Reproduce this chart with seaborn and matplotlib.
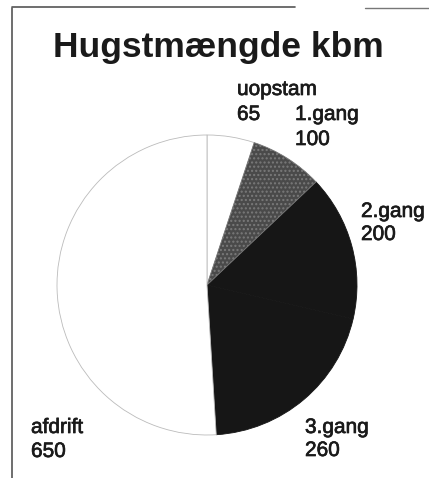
import matplotlib
matplotlib.use("Agg")
import matplotlib.pyplot as plt
import matplotlib.patheffects as pe
from matplotlib.lines import Line2D
import seaborn as sns

# data
categories = ["uopstam", "1.gang", "2.gang", "3.gang", "afdrift"]
volumes = [65, 100, 200, 260, 650]
title = "Hugstmængde kbm"

# styling
slice_colors = ["#ffffff", "#4a4a4a", "#161616", "#161616", "#ffffff"]
slice_edges = ["#bbbbbb", "#7a7a7a", "#161616", "#161616", "#bbbbbb"]
slice_hatches = [None, "....", None, None, None]
# label left x, name baseline y, value baseline y (figure pixels from top-left)
label_pos = [(237, 95, 120), (295, 120, 145), (361, 217, 240), (305, 433, 456), (31, 433, 457)]

W, H = 429, 478
sns.set_style("white")
plt.rcParams["font.family"] = ["Liberation Sans", "DejaVu Sans"]

fig = plt.figure(figsize=(W / 100, H / 100), dpi=100)

# pie centre and radius in pixels
cx, cy, r = 207, 285, 150
ax = fig.add_axes([(cx - r) / W, (H - cy - r) / H, 2 * r / W, 2 * r / H])
wedges, _ = ax.pie(volumes, startangle=90, counterclock=False, colors=slice_colors,
                   wedgeprops=dict(linewidth=0.6))
for w, ec, h in zip(wedges, slice_edges, slice_hatches):
    w.set_edgecolor(ec)
    if h:
        w.set_hatch(h)
# light seam between 1.gang and 2.gang as in the scan
wedges[2].set_zorder(0)
ax.set_xlim(-1, 1)
ax.set_ylim(-1, 1)
ax.axis("off")

fig.text(218 / W, 1 - 47 / H, title, ha="center", va="center",
         fontsize=25.5, fontweight="bold", color="#1a1a1a")

thick = [pe.withStroke(linewidth=0.5, foreground="#1a1a1a")]
for name, val, (px, py_name, py_val) in zip(categories, volumes, label_pos):
    fig.text(px / W, 1 - py_name / H, name, ha="left", va="baseline",
             fontsize=15, color="#1a1a1a", path_effects=thick)
    fig.text(px / W, 1 - py_val / H, str(val), ha="left", va="baseline",
             fontsize=15, color="#1a1a1a", path_effects=thick)

# scanned frame lines
fig.add_artist(Line2D([12 / W, 12 / W], [0, 1 - 8 / H], color="#555555", lw=1.2))
fig.add_artist(Line2D([12 / W, 295 / W], [1 - 7 / H, 1 - 7 / H], color="#555555", lw=1.2))
fig.add_artist(Line2D([365 / W, 1], [1 - 8 / H, 1 - 8 / H], color="#777777", lw=1.0))

fig.savefig("out.png", dpi=100)
